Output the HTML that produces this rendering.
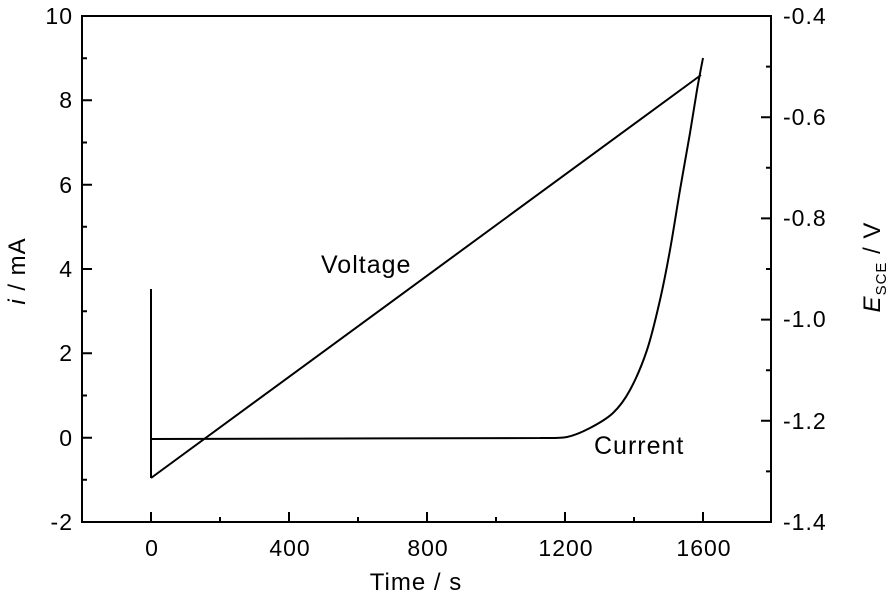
<!DOCTYPE html>
<html><head><meta charset="utf-8"><style>
html,body{margin:0;padding:0;background:#fff;}
svg{display:block;font-family:"Liberation Sans",Arial,sans-serif;}
</style></head><body>
<svg width="886" height="597" viewBox="0 0 886 597" xmlns="http://www.w3.org/2000/svg">
<g stroke="#000" stroke-width="2" fill="none">
<rect x="82" y="16" width="689" height="506"/>
<path d="M151 522v-10M289 522v-10M427 522v-10M565 522v-10M703 522v-10M220 522v-5M358 522v-5M496 522v-5M634 522v-5"/>
<path d="M82 16h10M82 100.3h10M82 184.7h10M82 269h10M82 353.3h10M82 437.7h10M82 522h10"/>
<path d="M82 58.2h5M82 142.5h5M82 226.8h5M82 311.2h5M82 395.5h5M82 479.8h5"/>
<path d="M771 16h-10M771 117.2h-10M771 218.4h-10M771 319.6h-10M771 420.8h-10M771 522h-10"/>
<path d="M771 66.6h-5M771 167.8h-5M771 269h-5M771 370.2h-5M771 471.4h-5"/>
</g>
<g stroke="#000" stroke-width="2" fill="none" stroke-linejoin="round">
<polyline points="151,478 701,75"/>
<polyline points="151,289 151,478"/>
<path id="cur" d=""/>
</g>
<g font-size="23" fill="#000" letter-spacing="1">
<g text-anchor="end">
<text x="73" y="24">10</text>
<text x="73" y="108">8</text>
<text x="73" y="193">6</text>
<text x="73" y="277">4</text>
<text x="73" y="361">2</text>
<text x="73" y="446">0</text>
<text x="73" y="530">-2</text>
</g>
<g>
<text x="783" y="24">-0.4</text>
<text x="783" y="125">-0.6</text>
<text x="783" y="226">-0.8</text>
<text x="783" y="327">-1.0</text>
<text x="783" y="429">-1.2</text>
<text x="783" y="530">-1.4</text>
</g>
<g text-anchor="middle">
<text x="152" y="556">0</text>
<text x="290" y="556">400</text>
<text x="428" y="556">800</text>
<text x="566" y="556">1200</text>
<text x="704" y="556">1600</text>
<text x="416" y="590" font-size="24">Time / s</text>
</g>
<text x="321" y="273" font-size="25">Voltage</text>
<text x="594" y="454" font-size="25">Current</text>
<text transform="translate(25,271) rotate(-90)" text-anchor="middle" font-size="24"><tspan font-style="italic">i</tspan> / mA</text>
<text transform="translate(880,267) rotate(-90)" text-anchor="middle" font-size="24"><tspan font-style="italic">E</tspan><tspan font-size="15" dy="6">SCE</tspan><tspan dy="-6"> / V</tspan></text>
</g>
</svg>
<script>
var p=[[540,438],[567,437],[590,428],[613,413],[630,390],[647,350],[660,300],[670,250],[680,190],[690,133],[697,90],[703,58]];
var d="M151 439 L"+p[0][0]+" "+p[0][1];
for(var i=0;i<p.length-1;i++){
 var p0=p[Math.max(i-1,0)],p1=p[i],p2=p[i+1],p3=p[Math.min(i+2,p.length-1)];
 var c1=[p1[0]+(p2[0]-p0[0])/6,p1[1]+(p2[1]-p0[1])/6];
 var c2=[p2[0]-(p3[0]-p1[0])/6,p2[1]-(p3[1]-p1[1])/6];
 d+=" C"+c1[0]+" "+c1[1]+" "+c2[0]+" "+c2[1]+" "+p2[0]+" "+p2[1];
}
document.getElementById("cur").setAttribute("d",d);
</script>
</body></html>
